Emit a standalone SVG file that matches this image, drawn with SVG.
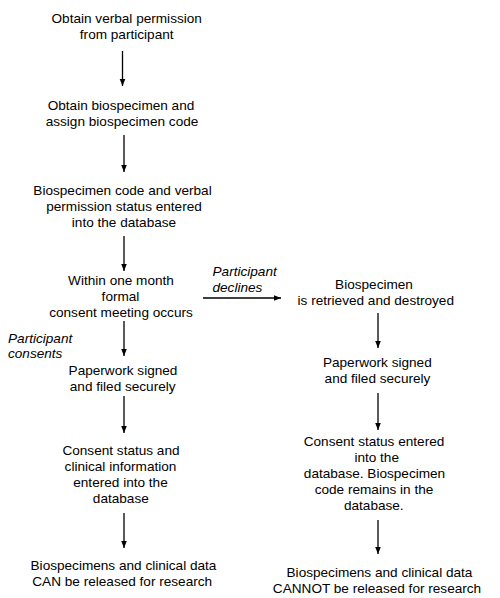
<svg xmlns="http://www.w3.org/2000/svg" width="500" height="598" viewBox="0 0 500 598">
<defs>
<style>
text{font-family:"Liberation Sans",Arial,sans-serif;font-size:13.6px;fill:#000;text-anchor:middle}
.lbl{font-style:italic;text-anchor:start}
.c line{stroke:#000;stroke-width:1.3;fill:none}
</style>
<marker id="ah" markerUnits="userSpaceOnUse" markerWidth="8" markerHeight="8" viewBox="0 0 8 8" refX="7" refY="4" orient="auto">
<path d="M0,1.2 L7,4 L0,6.8 Z" fill="#000"/>
</marker>
</defs>
<rect width="500" height="598" fill="#fff"/>
<g id="connectors" class="c">
<line x1="122.5" y1="51" x2="122.5" y2="86" marker-end="url(#ah)"/>
<line x1="124" y1="135" x2="124" y2="172" marker-end="url(#ah)"/>
<line x1="124" y1="236" x2="124" y2="271" marker-end="url(#ah)"/>
<line x1="124" y1="321" x2="124" y2="356" marker-end="url(#ah)"/>
<line x1="124" y1="396" x2="124" y2="433" marker-end="url(#ah)"/>
<line x1="124" y1="513" x2="124" y2="548" marker-end="url(#ah)"/>
<line x1="203" y1="298" x2="281" y2="298" marker-end="url(#ah)"/>
<line x1="378" y1="313" x2="378" y2="348" marker-end="url(#ah)"/>
<line x1="378" y1="393" x2="378" y2="430" marker-end="url(#ah)"/>
<line x1="378" y1="520" x2="378" y2="554" marker-end="url(#ah)"/>
</g>
<g id="n1"><text x="126.7" y="23">Obtain verbal permission</text><text x="126.7" y="39">from participant</text></g>
<g id="n2"><text x="121" y="110">Obtain biospecimen and</text><text x="122" y="126">assign biospecimen code</text></g>
<g id="n3"><text x="122.5" y="195">Biospecimen code and verbal</text><text x="124" y="211">permission status entered</text><text x="124" y="227">into the database</text></g>
<g id="n4"><text x="121" y="285">Within one month</text><text x="120.5" y="301">formal</text><text x="121" y="317">consent meeting occurs</text></g>
<g id="lbl-consents"><text class="lbl" x="8" y="342.5">Participant</text><text class="lbl" x="8" y="358">consents</text></g>
<g id="lbl-declines"><text class="lbl" x="212.5" y="276">Participant</text><text class="lbl" x="212.5" y="292">declines</text></g>
<g id="n5"><text x="123" y="375">Paperwork signed</text><text x="122.7" y="391">and filed securely</text></g>
<g id="n6"><text x="121" y="455">Consent status and</text><text x="120.5" y="471">clinical information</text><text x="120.5" y="487">entered into the</text><text x="120.8" y="503">database</text></g>
<g id="n7"><text x="123.5" y="570">Biospecimens and clinical data</text><text x="122.2" y="586">CAN be released for research</text></g>
<g id="r1"><text x="374" y="289">Biospecimen</text><text x="375.8" y="305">is retrieved and destroyed</text></g>
<g id="r2"><text x="377.3" y="366.5">Paperwork signed</text><text x="377.5" y="382.5">and filed securely</text></g>
<g id="r3"><text x="374" y="446">Consent status entered</text><text x="376.7" y="462">into the</text><text x="374.5" y="478">database. Biospecimen</text><text x="374" y="494">code remains in the</text><text x="373.8" y="510">database.</text></g>
<g id="r4"><text x="379.5" y="576.5">Biospecimens and clinical data</text><text x="377" y="592.5">CANNOT be released for research</text></g>
</svg>
